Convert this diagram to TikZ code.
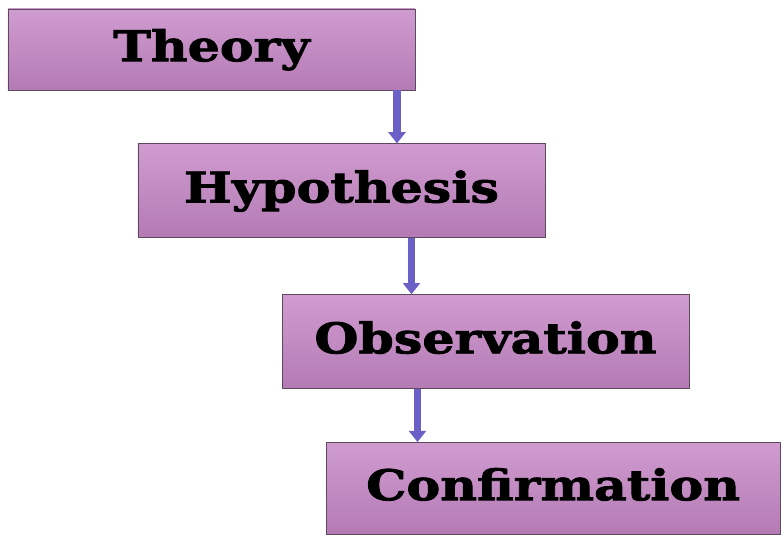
\documentclass[tikz,border=0pt]{standalone}
\usepackage{fontspec}
\setmainfont{DejaVu Serif}
\newfontfamily\stagefont{DejaVu Serif}[FakeStretch=1.2, FakeBold=2]
\usepackage{tikz}
\usetikzlibrary{positioning,arrows.meta}
\definecolor{boxtop}{HTML}{D09CD0}
\definecolor{boxbot}{HTML}{B47AB4}
\definecolor{boxline}{HTML}{5E4A5E}
\definecolor{arrowblue}{HTML}{6A60C8}

\begin{document}
\begin{tikzpicture}[
node distance=1.325cm, stage/.style={rectangle, draw=boxline, line width=0.6pt, top color=boxtop, bottom color=boxbot, minimum width=10.175cm, minimum height=2.35cm, text height=0.9cm, text depth=0.32cm, align=center, font=\stagefont\fontsize{30}{36}\selectfont\bfseries}, arrow/.style={-{Triangle[width=0.42cm,length=0.28cm]}, line width=0.18cm, arrowblue} ]
\useasboundingbox (-5.2875,1.2375) rectangle (14.3125,-12.1375);
\node[stage, minimum height=2.025cm] (theory) {Theory};
\node[stage, below=of theory, xshift=3.25cm] (hypo) {Hypothesis};
\node[stage, below=1.4cm of hypo, xshift=3.6cm] (obs) {Observation};
\node[stage, below=of obs, xshift=1.69cm, minimum width=11.35cm, minimum height=2.3cm] (conf) {Confirmation};
\draw[arrow] ([xshift=4.6375cm]theory.south) -- ([xshift=4.6375cm]theory.south |- hypo.north);
\draw[arrow] ([xshift=1.75cm]hypo.south) -- ([xshift=1.75cm]hypo.south |- obs.north);
\draw[arrow] ([xshift=-1.7cm]obs.south) -- ([xshift=-1.7cm]obs.south |- conf.north);
\end{tikzpicture}
\end{document}
